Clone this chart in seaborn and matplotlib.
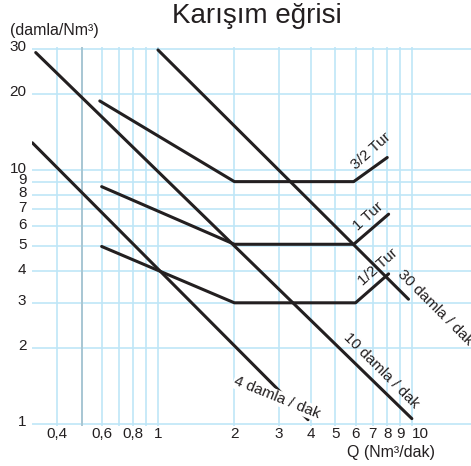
import pandas as pd
import numpy as np
import seaborn as sns
import matplotlib.pyplot as plt
from matplotlib.transforms import ScaledTranslation

# dosage lines (damla/dak)
q_4 = [0.32, 3.9]
d_4 = [12.8, 1.04]
q_10 = [0.33, 10.0]
d_10 = [29.0, 1.05]
q_30 = [1.0, 9.7]
d_30 = [29.7, 3.1]

# valve setting curves (Tur)
q_15tur = [0.59, 2.0, 5.9, 8.0]
d_15tur = [18.7, 9.0, 9.0, 11.2]
q_1tur = [0.6, 2.0, 5.9, 8.1]
d_1tur = [8.6, 5.1, 5.1, 6.7]
q_05tur = [0.6, 2.0, 6.0, 8.1]
d_05tur = [5.0, 3.0, 3.0, 3.9]

x_ticks = [0.4, 0.5, 0.6, 0.7, 0.8, 0.9, 1, 2, 3, 4, 5, 6, 7, 8, 9, 10]
x_labels = ['0,4', '', '0,6', '', '0,8', '', '1', '2', '3', '4', '5', '6', '7', '8', '9', '10']
y_ticks = [1, 2, 3, 4, 5, 6, 7, 8, 9, 10, 20, 30]
y_labels = ['1', '2', '3', '4', '5', '6', '7', '8', '9', '10', '20', '30']

sns.set_style('white')
plt.rcParams['font.family'] = ['Liberation Sans', 'DejaVu Sans']

fig = plt.figure(figsize=(4.71, 4.66), dpi=100)
ax = fig.add_axes([32/471, 1 - 426/466, (471-32)/471, (426-47)/466])

line_col = '#231f20'
curves = [(q_4, d_4), (q_10, d_10), (q_30, d_30),
          (q_15tur, d_15tur), (q_1tur, d_1tur), (q_05tur, d_05tur)]
for q, d in curves:
    df = pd.DataFrame({'Q': q, 'D': d})
    sns.lineplot(data=df, x='Q', y='D', sort=False, estimator=None,
                 color=line_col, lw=2.2, ax=ax, zorder=3)

ax.set_xscale('log')
ax.set_yscale('log')
ax.set_xlim(0.319, 17.1)
ax.set_ylim(0.982, 30.5)

ax.set_xticks(x_ticks)
ax.set_xticklabels(x_labels)
ax.set_yticks(y_ticks)
ax.set_yticklabels(y_labels)
ax.minorticks_off()
ax.tick_params(length=0, labelsize=11, colors='#231f20')
ax.tick_params(axis='x', pad=1)
ax.tick_params(axis='y', pad=4)
# the y labels sit a little above their grid lines in the original
for lab in ax.get_yticklabels():
    lab.set_transform(lab.get_transform() + ScaledTranslation(0, 3/100, fig.dpi_scale_trans))
# "10" starts at its grid line rather than centred on it
ax.get_xticklabels()[-1].set_horizontalalignment('left')
ax.grid(True, color='#bfe6f7', lw=1.2, zorder=0)
ax.axvline(0.5, color='#a9c7d3', lw=1.4, zorder=1)
for s in ax.spines.values():
    s.set_visible(False)
ax.set_xlabel('')
ax.set_ylabel('')

# labels on the curves
ax.text(6.9, 11.9, '3/2 Tur', rotation=42, ha='center', va='center', fontsize=11, color=line_col)
ax.text(6.71, 6.55, '1 Tur', rotation=42, ha='center', va='center', fontsize=11, color=line_col)
ax.text(7.35, 4.13, '1/2 Tur', rotation=42, ha='center', va='center', fontsize=11, color=line_col)
ax.text(12.4, 2.88, '30 damla / dak', rotation=-45, ha='center', va='center', fontsize=11,
        color=line_col, clip_on=False)
ax.text(7.6, 1.63, '10 damla / dak', rotation=-45, ha='center', va='center', fontsize=11,
        color=line_col)
ax.text(2.94, 1.27, '4 damla / dak', rotation=-22, ha='center', va='center', fontsize=11,
        color=line_col, zorder=4,
        bbox=dict(facecolor='white', edgecolor='none', pad=0.5))

fig.text(10/471, 1 - 30/466, '(damla/Nm³)', ha='left', va='center', fontsize=11.5, color=line_col)
fig.text(391/471, 1 - 452/466, 'Q (Nm³/dak)', ha='center', va='center', fontsize=11.5, color=line_col)
fig.text(257/471, 1 - 16/466, 'Karışım eğrisi', ha='center', va='center', fontsize=20, color=line_col)

fig.savefig('out.png', dpi=100)
